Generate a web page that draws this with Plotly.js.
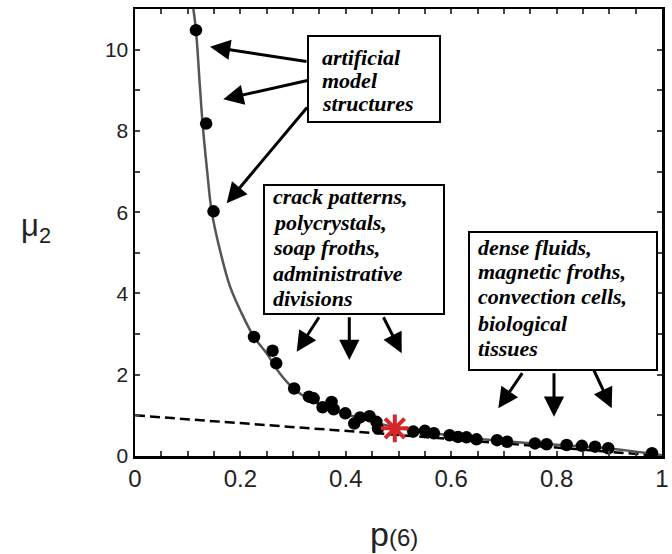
<!DOCTYPE html>
<html><head><meta charset="utf-8">
<script src="https://cdn.plot.ly/plotly-3.0.1.min.js"></script>
<style>html,body{margin:0;padding:0;background:#fff}</style>
</head><body><div id="chart" style="width:672px;height:554px"></div>
<script>
// ---- data ----
const pointsX = [0.1157,0.135,0.149,0.2258,0.261,0.268,0.302,0.330,0.339,0.356,0.373,0.377,0.399,0.416,0.427,0.445,0.458,0.461,0.528,0.550,0.567,0.597,0.613,0.629,0.648,0.687,0.706,0.759,0.781,0.819,0.848,0.873,0.898,0.981];
const pointsY = [10.48,8.18,6.02,2.93,2.59,2.28,1.66,1.46,1.42,1.20,1.33,1.15,1.05,0.80,0.95,0.98,0.84,0.68,0.60,0.62,0.56,0.51,0.47,0.46,0.41,0.39,0.35,0.31,0.29,0.27,0.25,0.23,0.19,0.07];
const curveX = [0.1107,0.1157,0.1226,0.1284,0.137,0.1455,0.1613,0.1806,0.2024,0.2258,0.2501,0.2749,0.3007,0.330,0.367,0.397,0.447,0.496,0.546,0.595,0.645,0.695,0.744,0.794,0.844,0.893,0.943,1.0];
const curveY = [11.0,10.48,9.2,8.16,7.0,6.02,5.06,4.16,3.51,2.93,2.52,2.03,1.66,1.40,1.18,1.04,0.86,0.70,0.60,0.51,0.43,0.37,0.32,0.28,0.24,0.19,0.12,0.02];
const dashX = [0, 0.459, 1];
const dashY = [1.0, 0.56, 0];
const starX = [0.493];
const starY = [0.68];
const xTickVals = [0,0.05,0.1,0.15,0.2,0.25,0.3,0.35,0.4,0.45,0.5,0.55,0.6,0.65,0.7,0.75,0.8,0.85,0.9,0.95,1];
const xTickText = ['0','','','','0.2','','','','0.4','','','','0.6','','','','0.8','','','','1'];
const yTickVals = [0,1,2,3,4,5,6,7,8,9,10,11];
const yTickText = ['0','','2','','4','','6','','8','','10',''];
const box1Lines = ['artificial', 'model', 'structures'];
const box2Lines = ['crack patterns,', 'polycrystals,', 'soap froths,', 'administrative', 'divisions'];
const box3Lines = ['dense fluids,', 'magnetic froths,', 'convection cells,', 'biological', 'tissues'];

// ---- layout helpers (pixel -> data) ----
const L = 135, T = 9, W = 527, H = 447, YMAX = 11;
const dx = px => (px - L) / W;
const dy = py => (T + H - py) / H * YMAX;
const px2paperX = px => (px - L) / W;
const py2paperY = py => (T + H - py) / H;

const traces = [
  {x: dashX, y: dashY, mode: 'lines', line: {color: '#000', width: 2.5, dash: '10px,5px'}, hoverinfo: 'skip'},
  {x: curveX, y: curveY, mode: 'lines', line: {color: '#555', width: 2.5, shape: 'spline'}, hoverinfo: 'skip'},
  {x: pointsX, y: pointsY, mode: 'markers', marker: {color: '#000', size: 12.5}},
  {x: starX, y: starY, mode: 'markers', marker: {symbol: 'asterisk-open', size: 23, line: {color: '#ff1a1a', width: 4}}}
];

const boxFont = {family: 'Liberation Serif', size: 22, color: '#000'};
const annotations = [];
const addLines = (lines, left, centers) => lines.forEach((t, i) => annotations.push({
  xref: 'x', yref: 'y', x: dx(left), y: dy(centers[i] - 2), xanchor: 'left', yanchor: 'middle',
  showarrow: false, text: '<b><i>' + t + '</i></b>', font: boxFont
}));
addLines(box1Lines, 320, [59, 82, 105]);
addLines(box2Lines, 271, [198.3, 224, 249, 275, 300]);
addLines(box3Lines, 476, [249, 273.5, 298.5, 325, 350.7]);

annotations.push({xref: 'paper', yref: 'paper', x: px2paperX(19), y: py2paperY(228), xanchor: 'left', yanchor: 'middle', showarrow: false,
  text: 'μ<sub>2</sub>', font: {family: 'Liberation Sans', size: 31, color: '#222'}});
annotations.push({xref: 'paper', yref: 'paper', x: px2paperX(394), y: py2paperY(534), xanchor: 'center', yanchor: 'middle', showarrow: false,
  text: 'p<span style="font-size:24px">(6)</span>', font: {family: 'Liberation Sans', size: 34, color: '#222'}});

const arrows = [
  [308, 61.7, 210, 46.7], [310, 80, 223.3, 99.3], [308.3, 106, 226.7, 203.3],
  [320, 315.7, 296.7, 351.7], [349.3, 315.7, 349.3, 360], [382.7, 315.7, 401.7, 353.3],
  [523.3, 371.7, 498.3, 408.3], [554, 371.7, 554, 416.7], [593.3, 369, 611.7, 408.3]
];
arrows.forEach(a => annotations.push({
  xref: 'x', yref: 'y', axref: 'x', ayref: 'y',
  x: dx(a[2]), y: dy(a[3]), ax: dx(a[0]), ay: dy(a[1]),
  text: '', showarrow: true, arrowhead: 2, arrowsize: 1.35, arrowwidth: 3, arrowcolor: '#000', standoff: 0
}));

const rect = (x0, y0, x1, y1) => ({type: 'rect', xref: 'x', yref: 'y', x0: dx(x0), x1: dx(x1), y0: dy(y0), y1: dy(y1), line: {color: '#000', width: 2}, fillcolor: 'rgba(0,0,0,0)'});
const shapes = [rect(308, 36, 440, 122), rect(264, 185, 444, 314), rect(469, 232, 657, 370)];

const axisCommon = {tickmode: 'array', ticks: 'inside', ticklen: 5, tickwidth: 2,
  showline: true, linecolor: '#000', linewidth: 2.5, mirror: 'allticks', showgrid: false, zeroline: false};
const layout = {
  width: 672, height: 554,
  margin: {l: L, r: 672 - L - W, t: T, b: 554 - T - H},
  paper_bgcolor: '#fff', plot_bgcolor: '#fff',
  showlegend: false,
  xaxis: Object.assign({}, axisCommon, {range: [0, 1], tickvals: xTickVals, ticktext: xTickText,
          tickfont: {family: 'Liberation Sans', size: 24, color: '#222'}}),
  yaxis: Object.assign({}, axisCommon, {range: [0, YMAX], tickvals: yTickVals, ticktext: yTickText,
          tickfont: {family: 'Liberation Sans', size: 21, color: '#222'}}),
  annotations: annotations,
  shapes: shapes
};
Plotly.newPlot('chart', traces, layout, {displayModeBar: false, staticPlot: true});
</script></body></html>
